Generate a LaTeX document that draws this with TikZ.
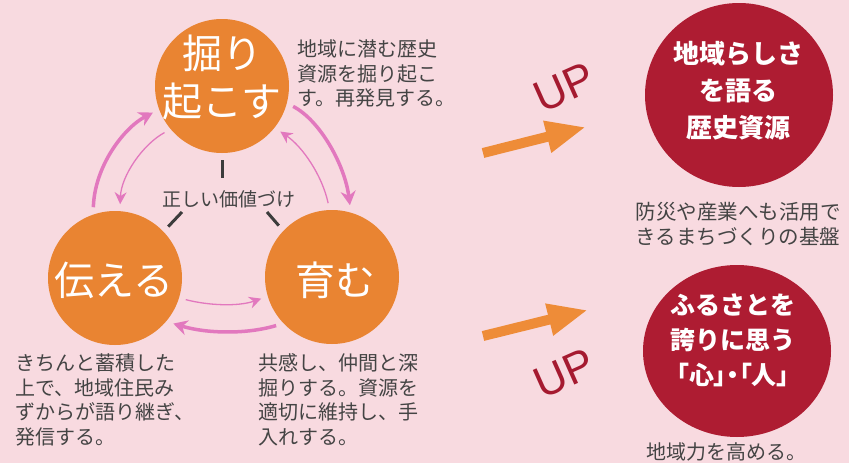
\documentclass[tikz,border=0pt]{standalone}
\usepackage{fontspec}
\setmainfont{Noto Sans CJK JP}
\newfontfamily\upfont{Liberation Sans}
\usetikzlibrary{arrows.meta,shapes.geometric}
\definecolor{bg}{HTML}{F8DAE0}
\definecolor{orng}{HTML}{E98432}
\definecolor{dred}{HTML}{AE1C32}
\definecolor{pnk}{HTML}{E278BE}
\definecolor{txt}{HTML}{444444}
\definecolor{linkgray}{HTML}{3C3C3C}
\definecolor{uparr}{HTML}{EE8C38}
\definecolor{upred}{HTML}{A51A30}
\begin{document}
\begin{tikzpicture}[x=1pt,y=-1pt,
  stage/.style={circle,fill=orng,minimum size=134pt,inner sep=0pt,outer sep=7pt},
  stagetext/.style={text=white,font=\fontsize{40}{48}\selectfont,align=center,inner sep=0pt},
  goal/.style={ellipse,fill=dred,inner sep=0pt},
  goaltext/.style={text=white,font=\bfseries\fontsize{25}{37}\selectfont,align=center,inner sep=0pt},
  desc/.style={text=txt,font=\fontsize{20}{24.5}\selectfont,align=left,inner sep=0pt,anchor=west},
  note/.style={text=txt,font=\fontsize{20.5}{25}\selectfont,align=center,inner sep=0pt},
  bigarr/.style={draw=pnk,line width=3.5pt,-{Stealth[length=14pt,width=15pt]}},
  smallarr/.style={draw=pnk,line width=1.3pt,-{Stealth[length=12pt,width=12pt]}},
  graylink/.style={draw=linkgray,line width=3pt},
  uparrow/.style={draw=uparr,line width=10pt,-{Triangle[length=40pt,width=30pt]}},
  uptext/.style={text=upred,font=\upfont\fontsize{44}{44}\selectfont,inner sep=0pt,rotate=24}
]
\useasboundingbox (0,0) rectangle (849,463);
\fill[bg] (0,0) rectangle (849,463);

% orange cycle
\node[stage] (T) at (222,86) {};
\node[stage] (L) at (115,278) {};
\node[stage] (R) at (332,277) {};
\node[stagetext] (Tt) at (222,77) {掘り\\起こす};
\node[stagetext] (Lt) at (114,280) {伝える};
\node[stagetext] (Rt) at (335,280) {育む};

% central label
\node[text=txt,font=\fontsize{19}{19}\selectfont,inner sep=0pt] (V) at (229,199) {正しい価値づけ};
\coordinate (gv) at (222,178);
\coordinate (gl) at (182,212);
\coordinate (gr) at (267,212);
\draw[graylink] (T.south) -- (gv);
\draw[graylink] (L.44) -- (gl);
\draw[graylink] (R.136) -- (gr);

% pink arrows
\draw[bigarr] (L.107) .. controls +(1,-40) and +(-30,16) .. (T.201);
\draw[smallarr] (T.219) .. controls +(-22,12) and +(1,-28) .. (L.86);
\draw[bigarr] (T.344) .. controls +(27,14) and +(-5,-40) .. (R.76);
\draw[smallarr] (R.93) .. controls +(-6,-28) and +(22,15) .. (T.322);
\draw[smallarr] (L.343) .. controls +(23,6) and +(-23,8) .. (R.197);
\draw[bigarr] (R.221) .. controls +(-30,9) and +(33,10) .. (L.322);

% descriptions
\node[desc] (d1) at (297,73.5) {地域に潜む歴史\\資源を掘り起こ\\す。再発見する。};
\node[desc] (d2) at (15,400) {きちんと蓄積した\\上で、地域住民み\\ずからが語り継ぎ、\\発信する。};
\node[desc] (d3) at (258,400) {共感し、仲間と深\\掘りする。資源を\\適切に維持し、手\\入れする。};

% UP arrows
\coordinate (oa1) at (483,153);
\coordinate (ob1) at (586,127);
\coordinate (oa2) at (483,336);
\coordinate (ob2) at (588,310);
\draw[uparrow] (oa1) -- (ob1);
\draw[uparrow] (oa2) -- (ob2);
\node[uptext] (up1) at (564,87) {UP};
\node[uptext] (up2) at (564,373) {UP};

% goals
\node[goal,minimum width=188pt,minimum height=184pt] (G1) at (739,95) {};
\node[goaltext,font=\bfseries\fontsize{26}{37}\selectfont] (G1t) at (738,91) {地域らしさ\\を語る\\歴史資源};
\node[note] (n1) at (738,224.5) {防災や産業へも活用で\\きるまちづくりの基盤};

\node[goal,minimum width=188pt,minimum height=172pt] (G2) at (737,351) {};
\node[goaltext,font=\bfseries\fontsize{25}{35}\selectfont] (G2t) at (733,340) {ふるさとを\\誇りに思う\\{\addfontfeatures{RawFeature=+palt}「心」・「人」}};
\node[note,font=\fontsize{20}{24}\selectfont] (n2) at (726,452) {地域力を高める。};
\end{tikzpicture}
\end{document}
